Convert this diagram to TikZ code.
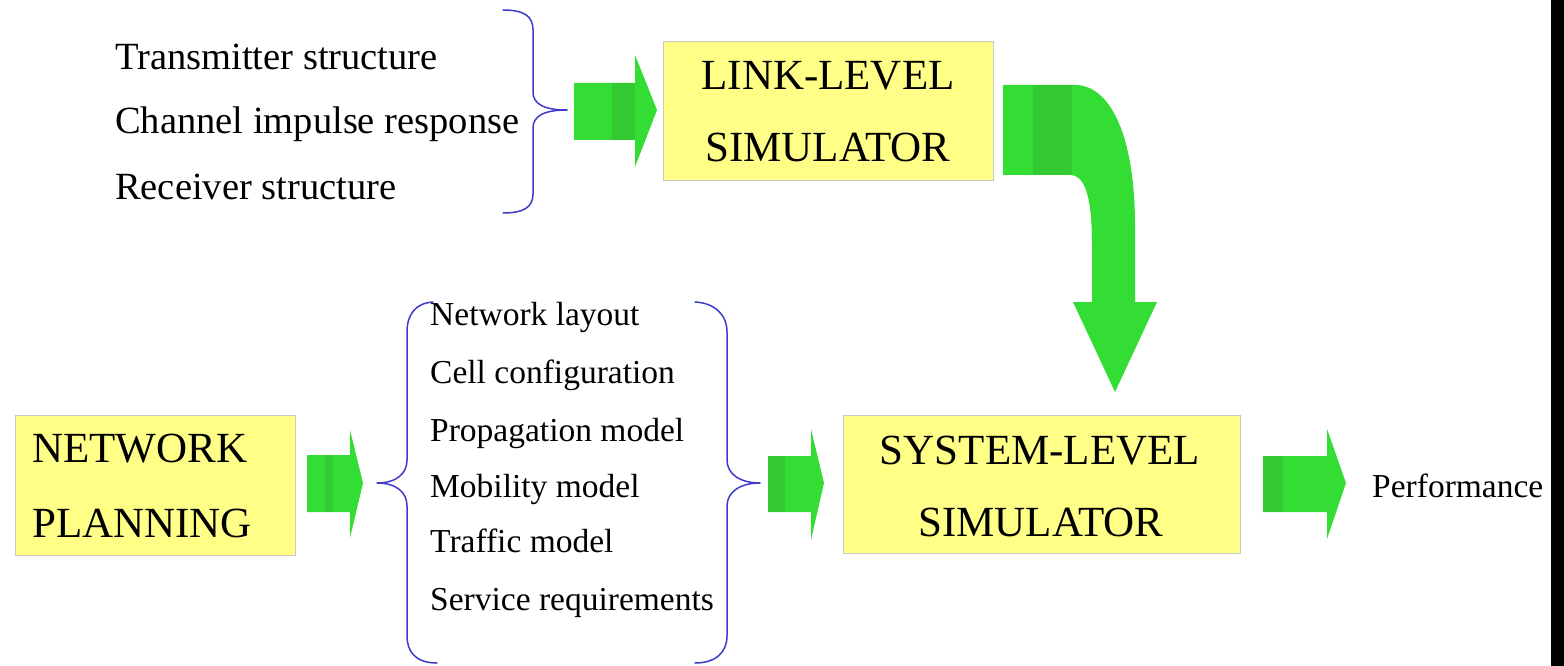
\documentclass[tikz,border=0pt]{standalone}
\usepackage{fontspec}
\setmainfont{Liberation Serif}
\definecolor{boxyellow}{HTML}{FFFF88}
\definecolor{boxedge}{HTML}{C8C8C8}
\definecolor{arrowgreen}{HTML}{33DD33}
\definecolor{arrowdark}{HTML}{33C933}
\definecolor{braceblue}{HTML}{3C3CC8}
\begin{document}
\begin{tikzpicture}[x=1pt,y=-1pt,
  box/.style={draw=boxedge, fill=boxyellow, line width=1pt, inner sep=0pt, anchor=north west},
  boxtext/.style={font=\fontsize{43pt}{47pt}\selectfont, anchor=base, inner sep=0pt},
  toptext/.style={font=\fontsize{38.5pt}{42pt}\selectfont, anchor=base west, inner sep=0pt},
  listtext/.style={font=\fontsize{33.5pt}{36pt}\selectfont, anchor=base west, inner sep=0pt},
  blockarrow/.style={fill=arrowgreen, draw=none},
  band/.style={fill=arrowdark, draw=none},
  bracestyle/.style={draw=braceblue, line width=1.5pt, line cap=round, line join=round}]
\useasboundingbox (0,0) rectangle (1564,666);
\fill[white] (0,0) rectangle (1564,666);
\fill[black] (1551,0) rectangle (1564,666);

% boxes
\node[box, minimum width=330pt, minimum height=139pt] (link) at (663,41) {};
\node[box, minimum width=397pt, minimum height=138pt] (sys) at (843,415) {};
\node[box, minimum width=280pt, minimum height=140pt] (plan) at (15,415) {};

\node[boxtext] (link1) at (828,90) {LINK-LEVEL};
\node[boxtext] (link2) at (828,162) {SIMULATOR};
\node[boxtext] (sys1) at (1040,464) {SYSTEM-LEVEL};
\node[boxtext] (sys2) at (1041,536) {SIMULATOR};
\node[boxtext, anchor=base west] (plan1) at (32,462) {NETWORK};
\node[boxtext, anchor=base west] (plan2) at (32,537) {PLANNING};

% top list
\node[toptext] (t1) at (115,70) {Transmitter structure};
\node[toptext] (t2) at (115,134) {Channel impulse response};
\node[toptext] (t3) at (115,199) {Receiver structure};

% bottom list
\node[listtext] (b1) at (430,325) {Network layout};
\node[listtext] (b2) at (430,383) {Cell configuration};
\node[listtext] (b3) at (430,441) {Propagation model};
\node[listtext] (b4) at (430,497) {Mobility model};
\node[listtext] (b5) at (430,552) {Traffic model};
\node[listtext] (b6) at (430,610) {Service requirements};

\node[listtext, anchor=base west] (perf) at (1372,497) {Performance};

% braces
\draw[bracestyle] (503,10) .. controls (524,10) and (533,16) .. (533,30) -- (533,92)
  .. controls (533,104) and (544,110) .. (567,110)
  .. controls (544,110) and (533,116) .. (533,128) -- (533,194)
  .. controls (533,207) and (524,213) .. (503,213);
\draw[bracestyle] (433,302) .. controls (416,303) and (407,314) .. (407,332) -- (407,460)
  .. controls (407,474) and (396,483) .. (377,483)
  .. controls (396,483) and (407,492) .. (407,506) -- (407,636)
  .. controls (407,652) and (416,663) .. (437,663);
\draw[bracestyle] (695,302) .. controls (714,303) and (727,314) .. (727,332) -- (727,460)
  .. controls (727,474) and (740,483) .. (760,483)
  .. controls (740,483) and (727,492) .. (727,506) -- (727,636)
  .. controls (727,652) and (716,663) .. (695,663);

% straight block arrows
\fill[blockarrow] (574,83) -- (635,83) -- (635,55) -- (657,110) -- (635,167) -- (635,140) -- (574,140) -- cycle;
\fill[band] (612,83) rectangle (635,140);
\fill[blockarrow] (307,455) -- (350,455) -- (350,430) -- (363,483) -- (350,538) -- (350,512) -- (307,512) -- cycle;
\fill[band] (325,455) rectangle (333,512);
\fill[blockarrow] (768,456) -- (811,456) -- (811,429) -- (824,483) -- (811,540) -- (811,512) -- (768,512) -- cycle;
\fill[band] (768,456) rectangle (785,512);
\fill[blockarrow] (1263,456) -- (1327,456) -- (1327,429) -- (1346,483) -- (1327,539) -- (1327,512) -- (1263,512) -- cycle;
\fill[band] (1263,456) rectangle (1283,512);

% curved block arrow
\fill[blockarrow] (1003,85) -- (1075,85) .. controls (1112,85) and (1135,140) .. (1135,225)
  -- (1135,302) -- (1157,302) -- (1115,392) -- (1073,302) -- (1092,302) -- (1092,245)
  .. controls (1092,200) and (1086,175) .. (1070,175) -- (1003,175) -- cycle;
\fill[band] (1033,85) rectangle (1072,175);
\end{tikzpicture}
\end{document}
